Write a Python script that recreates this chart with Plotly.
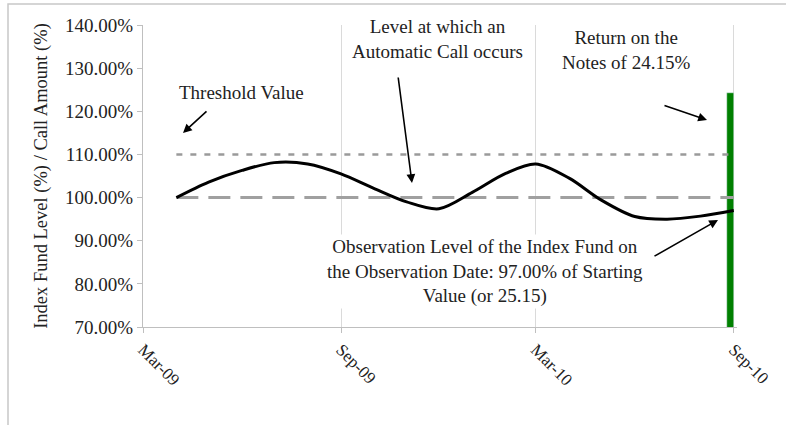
import plotly.graph_objects as go

# ---- data ----
dates = ["2009-04-01", "2009-05-01", "2009-06-01", "2009-07-01", "2009-08-01", "2009-09-01",
         "2009-10-01", "2009-11-01", "2009-12-01", "2010-01-01", "2010-02-01", "2010-03-01",
         "2010-04-01", "2010-05-01", "2010-06-01", "2010-07-01", "2010-08-01", "2010-09-01"]
index_level = [100.0, 103.6, 106.3, 108.1, 107.8, 105.5, 102.2, 99.0, 97.4, 101.2,
               105.6, 107.8, 104.5, 99.4, 95.6, 95.0, 95.7, 97.0]
threshold_level = [110.0] * len(dates)
call_level = [100.0] * len(dates)
bar_date = ["2010-08-29"]
bar_value = [124.15]
tick_dates = ["2009-03-01", "2009-09-01", "2010-03-01", "2010-09-01"]
tick_labels = ["Mar-09", "Sep-09", "Mar-10", "Sep-10"]

FONT = "Times New Roman, Liberation Serif, serif"
L, R, T, B = 143, 737, 25, 327
W, H = 786, 425


def px(x):
    return (x - L) / (R - L)


def py(y):
    return (B - y) / (B - T)


fig = go.Figure()
fig.add_trace(go.Bar(x=bar_date, y=bar_value, marker_color="#008000",
                     width=7.0 * 86400000, showlegend=False))
fig.add_trace(go.Scatter(x=dates, y=threshold_level, mode="lines",
                         line=dict(color="#9a9a9a", width=2.5, dash="6px,8px"), showlegend=False))
fig.add_trace(go.Scatter(x=dates, y=call_level, mode="lines",
                         line=dict(color="#a0a0a0", width=3, dash="22px,10px"), showlegend=False))
fig.add_trace(go.Scatter(x=dates, y=index_level, mode="lines",
                         line=dict(color="black", width=3, shape="spline", smoothing=0.9),
                         showlegend=False))

annots = []
txtfont = dict(family=FONT, size=19, color="#222")


def text(x, y, t):
    annots.append(dict(x=px(x), y=py(y), xref="paper", yref="paper", text=t, showarrow=False,
                       font=txtfont, align="center", bgcolor="white", xanchor="center",
                       yanchor="middle"))


def arrow(x0, y0, x1, y1):
    annots.append(dict(x=px(x1), y=py(y1), xref="paper", yref="paper", text="",
                       showarrow=True, arrowhead=2, arrowsize=1.1, arrowwidth=1.6,
                       arrowcolor="black", ax=x0 - x1, ay=y0 - y1))


text(241, 92, "Threshold Value")
arrow(208, 110, 183, 133)
text(437, 39, "Level at which an<br>Automatic Call occurs")
arrow(398, 76, 412, 183)
text(626, 50, "Return on the<br>Notes of 24.15%")
arrow(663, 105, 707, 120)
text(485, 271, "Observation Level of the Index Fund on<br>the Observation Date: 97.00% of Starting<br>Value (or 25.15)")
arrow(653, 257, 718, 220)

border = "M {r},{t} L {l},{t} L {l},{b}".format(
    l=px(8), r=px(820), t=py(4), b=py(440))

fig.update_layout(
    width=W, height=H,
    margin=dict(l=L, r=W - R, t=T, b=H - B, autoexpand=False),
    plot_bgcolor="white", paper_bgcolor="white",
    annotations=annots,
    shapes=[dict(type="path", xref="paper", yref="paper", path=border,
                 line=dict(color="#c8c8c8", width=1.5))],
    xaxis=dict(type="date", range=["2009-03-01", "2010-09-04"], automargin=False,
               tickvals=tick_dates, ticktext=tick_labels, tickangle=45,
               showgrid=True, gridcolor="#dadada", gridwidth=1,
               showline=True, linecolor="#bfbfbf", ticks="outside", ticklen=5,
               tickcolor="#bfbfbf", tickfont=dict(family=FONT, size=17, color="#222")),
    yaxis=dict(range=[70, 140], dtick=10, tickformat=".2f", ticksuffix="%", automargin=False,
               showgrid=False, zeroline=False, showline=True, linecolor="#bfbfbf",
               ticks="outside", ticklen=5, tickcolor="#bfbfbf",
               tickfont=dict(family=FONT, size=19, color="#222"),
               title=dict(text="Index Fund Level (%) / Call Amount (%)",
                          font=dict(family=FONT, size=18.5, color="#222"), standoff=12)),
    bargap=0,
)

fig.write_html("out.html", config={"displayModeBar": False},
               post_script=("document.body.style.margin='0';"
                            "document.body.style.overflow='hidden';"
                            "document.documentElement.style.overflow='hidden';"))
